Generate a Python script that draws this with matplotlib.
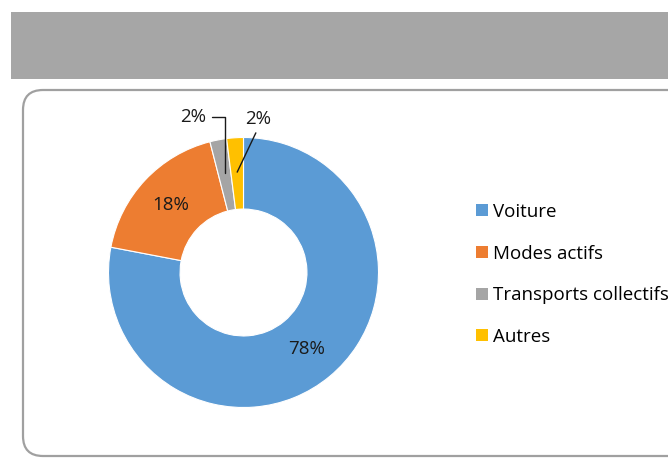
import matplotlib
matplotlib.use("Agg")
import matplotlib.pyplot as plt
from matplotlib.patches import Rectangle, FancyBboxPatch, Patch
import numpy as np

plt.rcParams["font.family"] = ["Open Sans", "DejaVu Sans"]

# ── data ──────────────────────────────────────────────────────────────────────
categories = ["Voiture", "Modes actifs", "Transports collectifs", "Autres"]
shares     = [78, 18, 2, 2]
colors     = ["#5B9BD5", "#ED7D31", "#A5A5A5", "#FFC000"]

W, H = 668, 462
fig = plt.figure(figsize=(W / 100, H / 100), dpi=100)

# background layer in pixel units (y downwards)
bg = fig.add_axes([0, 0, 1, 1])
bg.set_xlim(0, W)
bg.set_ylim(H, 0)
bg.axis("off")
bg.add_patch(Rectangle((11, 12), W - 11, 67, facecolor="#A6A6A6",
                       edgecolor="none"))
bg.add_patch(FancyBboxPatch((23, 90), W, 366,
                            boxstyle="round,pad=0,rounding_size=20",
                            facecolor="white", edgecolor="#A0A0A0",
                            linewidth=1.6))

# donut
cx, cy, r = 243.5, 272.5, 135
ax = fig.add_axes([(cx - r) / W, (H - cy - r) / H, 2 * r / W, 2 * r / H])

wedges, _ = ax.pie(shares, colors=colors, startangle=90, counterclock=False,
                   radius=1, wedgeprops=dict(width=0.53, edgecolor="white",
                                             linewidth=0.8))
ax.set_xlim(-1, 1)
ax.set_ylim(-1, 1)
ax.axis("off")

FS = 13.5
mid_r = 0.735
for w, s in zip(wedges, shares):
    ang = np.deg2rad((w.theta1 + w.theta2) / 2)
    x, y = mid_r * np.cos(ang), mid_r * np.sin(ang)
    if s >= 10:
        ax.text(x, y, f"{s}%", ha="center", va="center", fontsize=FS,
                color="#1a1a1a")

# small slices with leader lines
w = wedges[2]
ang = np.deg2rad((w.theta1 + w.theta2) / 2)
ax.annotate(f"{shares[2]}%", xy=(0.75 * np.cos(ang), 0.75 * np.sin(ang)),
            xytext=(-0.37, 1.15), ha="center", va="center", fontsize=FS,
            color="#1a1a1a", annotation_clip=False,
            arrowprops=dict(arrowstyle="-", color="#1a1a1a", lw=1,
                            shrinkA=2, shrinkB=0,
                            connectionstyle="angle,angleA=0,angleB=90,rad=0",
                            relpos=(1, 0.5)))
w = wedges[3]
ang = np.deg2rad((w.theta1 + w.theta2) / 2)
ax.annotate(f"{shares[3]}%", xy=(0.745 * np.cos(ang), 0.745 * np.sin(ang)),
            xytext=(0.11, 1.14), ha="center", va="center", fontsize=FS,
            color="#1a1a1a", annotation_clip=False,
            arrowprops=dict(arrowstyle="-", color="#1a1a1a", lw=1,
                            shrinkA=2, shrinkB=0, relpos=(0.5, 0)))

# legend
handles = [Patch(facecolor=c, edgecolor="none") for c in colors]
fig.legend(handles, categories, loc="upper left",
           bbox_to_anchor=(476 / W, 1 - 203 / H), frameon=False,
           fontsize=FS, handlelength=0.62, handleheight=0.62,
           handletextpad=0.28, labelspacing=1.26, borderpad=0,
           borderaxespad=0)

fig.savefig("out.png", dpi=100)
